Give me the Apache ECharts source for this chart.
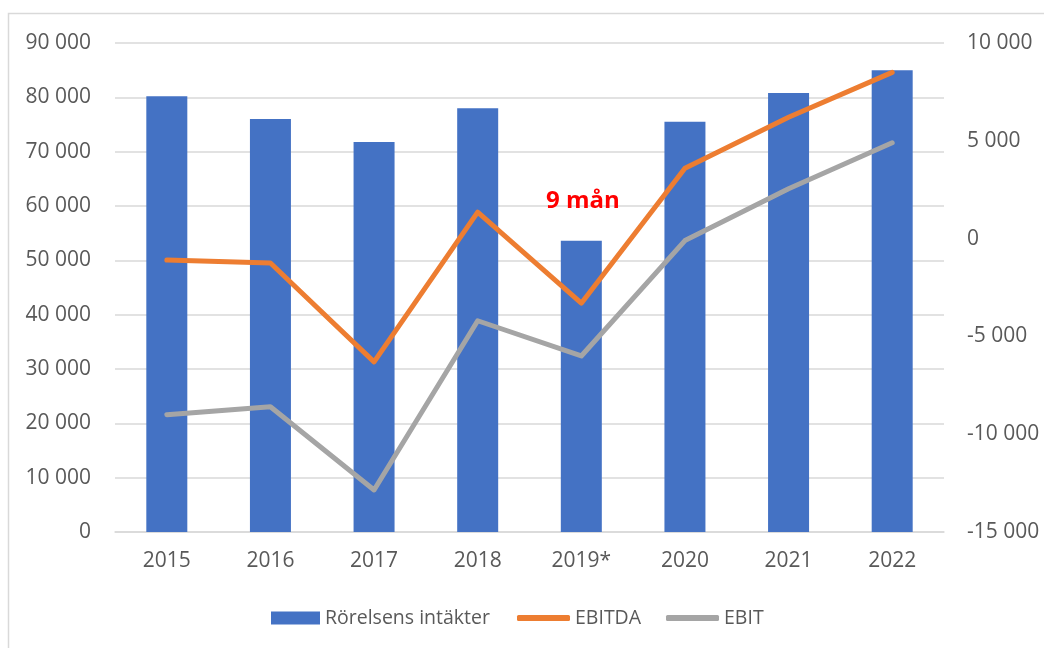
<!DOCTYPE html>
<html>
<head>
<meta charset="utf-8">
<script src="https://cdn.jsdelivr.net/npm/echarts@6/dist/echarts.min.js"></script>
<style>
html,body{margin:0;padding:0;background:#fff;}
#c{width:1044px;height:648px;}
</style>
</head>
<body>
<div id="c"></div>
<script>
var categories = ['2015','2016','2017','2018','2019*','2020','2021','2022'];
var revenue = [80200, 76000, 71800, 78000, 53600, 75500, 80800, 85000];
var ebitda = [-1100, -1250, -6300, 1350, -3300, 3600, 6200, 8500];
var ebit = [-9000, -8600, -12850, -4200, -6000, -100, 2550, 4900];
var leftTicks = {min: 0, max: 90000, interval: 10000};
var rightTicks = {min: -15000, max: 10000, interval: 5000};

function fmt(v){
  var s = Math.abs(v).toString().replace(/\B(?=(\d{3})+(?!\d))/g, ' ');
  return (v < 0 ? '-' : '') + s;
}

var FONT = 'Open Sans';
var chart = echarts.init(document.getElementById('c'));
var legendText = {fontFamily: FONT, fontSize: 19.5, color: '#595959'};
chart.setOption({
  backgroundColor: '#fff',
  animation: false,
  graphic: [
    {type: 'rect', shape: {x: 8.5, y: 13.5, width: 1100, height: 700},
     style: {fill: 'none', stroke: '#d9d9d9', lineWidth: 1.5}, z: 0},
    {type: 'text', left: 546, top: 189,
     style: {text: '9 mån', fontFamily: FONT, fontSize: 24, fontWeight: 'bold', fill: '#ff0000'}, z: 10}
  ],
  grid: {left: 115, right: 100, top: 43, bottom: 116, containLabel: false},
  legend: [
    {data: ['Rörelsens intäkter'], left: 271, top: 608, padding: 0, itemWidth: 49, itemHeight: 13, icon: 'rect', itemGap: 0, textStyle: legendText},
    {data: ['EBITDA'], left: 517, top: 608, padding: 0, itemWidth: 53, itemHeight: 6, icon: 'roundRect', textStyle: legendText},
    {data: ['EBIT'], left: 666, top: 608, padding: 0, itemWidth: 53, itemHeight: 6, icon: 'roundRect', textStyle: legendText}
  ],
  xAxis: {
    type: 'category',
    data: categories,
    axisLine: {lineStyle: {color: '#d9d9d9', width: 1.5}},
    axisTick: {show: false},
    axisLabel: {fontFamily: FONT, fontSize: 21, color: '#595959', margin: 19}
  },
  yAxis: [
    {type: 'value', min: leftTicks.min, max: leftTicks.max, interval: leftTicks.interval,
     axisLine: {show: false}, axisTick: {show: false},
     splitLine: {lineStyle: {color: '#d9d9d9', width: 1.5}},
     axisLabel: {fontFamily: FONT, fontSize: 21, color: '#595959', margin: 24, formatter: fmt}},
    {type: 'value', min: rightTicks.min, max: rightTicks.max, interval: rightTicks.interval,
     axisLine: {show: false}, axisTick: {show: false}, splitLine: {show: false},
     axisLabel: {fontFamily: FONT, fontSize: 21, color: '#595959', margin: 23, formatter: fmt}}
  ],
  series: [
    {name: 'Rörelsens intäkter', type: 'bar', data: revenue, yAxisIndex: 0, barWidth: 41,
     itemStyle: {color: '#4472C4'}},
    {name: 'EBITDA', type: 'line', data: ebitda, yAxisIndex: 1, symbol: 'none',
     lineStyle: {color: '#ED7D31', width: 5, cap: 'round', join: 'round'}, itemStyle: {color: '#ED7D31'}},
    {name: 'EBIT', type: 'line', data: ebit, yAxisIndex: 1, symbol: 'none',
     lineStyle: {color: '#A5A5A5', width: 5, cap: 'round', join: 'round'}, itemStyle: {color: '#A5A5A5'}}
  ]
});
</script>
</body>
</html>
